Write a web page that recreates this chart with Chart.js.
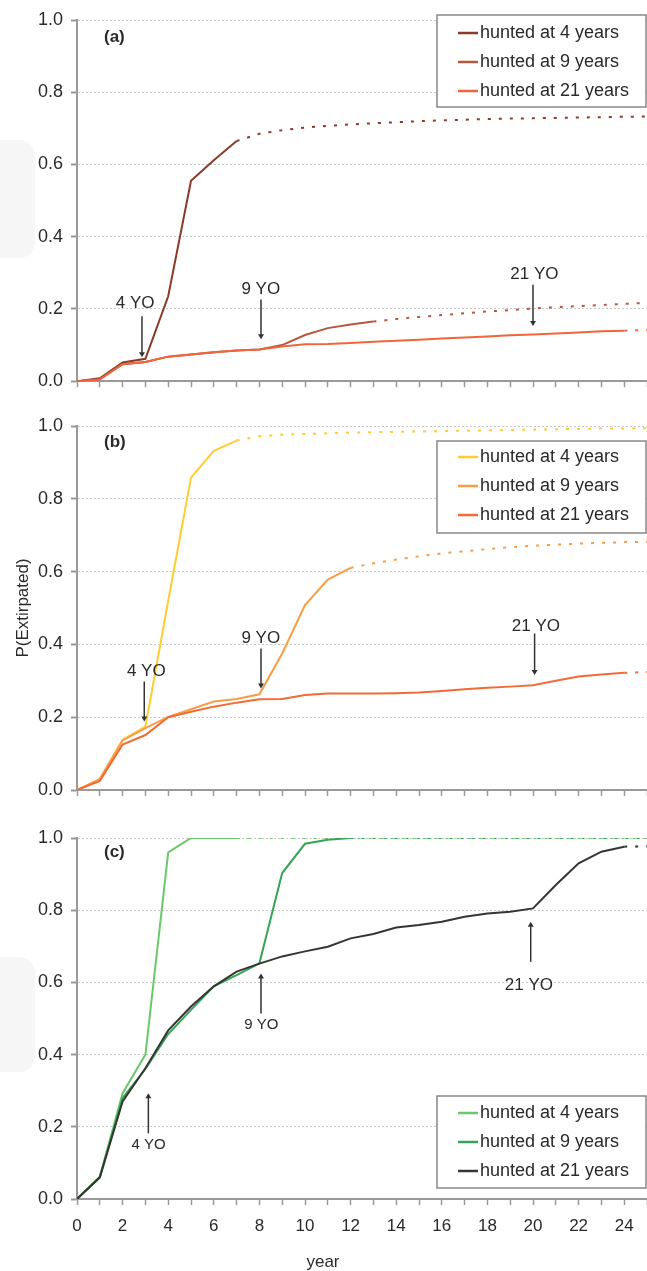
<!DOCTYPE html>
<html>
<head>
<meta charset="utf-8">
<title>P(Extirpated)</title>
<script src="https://cdn.jsdelivr.net/npm/chart.js@4.4.1/dist/chart.umd.min.js"></script>
<style>
  body { margin: 0; background: #fff; }
  #wrap { position: relative; width: 647px; height: 1271px; overflow: hidden; }
  .panel { position: absolute; left: 0; }
  .smudge { position: absolute; left: 0; width: 35px; background: #f6f6f6; border-radius: 0 16px 16px 0; }
</style>
</head>
<body>
<div id="wrap">
  <div class="smudge" style="top:140px;height:118px"></div>
  <div class="smudge" style="top:957px;height:115px"></div>
  <canvas id="chartA" class="panel" style="top:0" width="647" height="400"></canvas>
  <canvas id="chartB" class="panel" style="top:400px" width="647" height="410"></canvas>
  <canvas id="chartC" class="panel" style="top:810px" width="647" height="461"></canvas>
</div>
<script>
"use strict";

const FONT = '"Liberation Sans", Arial, sans-serif';
const TEXT = "#2a2a2a";

// years on the x axis
const years = [0, 1, 2, 3, 4, 5, 6, 7, 8, 9, 10, 11, 12, 13, 14, 15, 16, 17, 18, 19, 20, 21, 22, 23, 24, 25];
const xTickLabels = [0, 2, 4, 6, 8, 10, 12, 14, 16, 18, 20, 22, 24];
const seriesNames = ["hunted at 4 years", "hunted at 9 years", "hunted at 21 years"];

// (a)
const a4 = [0, 0.008, 0.052, 0.062, 0.235, 0.555, 0.612, 0.665, 0.685, 0.695, 0.702, 0.707, 0.711, 0.714, 0.717, 0.72, 0.722, 0.724, 0.726, 0.727, 0.728, 0.729, 0.73, 0.731, 0.732, 0.733];
const a9 = [0, 0.005, 0.047, 0.053, 0.068, 0.074, 0.08, 0.085, 0.088, 0.1, 0.128, 0.147, 0.157, 0.165, 0.172, 0.178, 0.183, 0.188, 0.193, 0.197, 0.201, 0.205, 0.208, 0.211, 0.214, 0.217];
const a21 = [0, 0.005, 0.047, 0.053, 0.068, 0.074, 0.08, 0.085, 0.088, 0.096, 0.102, 0.103, 0.106, 0.109, 0.112, 0.115, 0.118, 0.121, 0.124, 0.127, 0.129, 0.132, 0.135, 0.138, 0.14, 0.142];

// (b)
const b4 = [0, 0.03, 0.138, 0.174, 0.52, 0.858, 0.932, 0.96, 0.972, 0.976, 0.978, 0.98, 0.982, 0.983, 0.984, 0.985, 0.986, 0.987, 0.988, 0.989, 0.99, 0.991, 0.992, 0.993, 0.993, 0.994];
const b9 = [0, 0.03, 0.136, 0.17, 0.201, 0.222, 0.243, 0.25, 0.263, 0.375, 0.508, 0.578, 0.61, 0.623, 0.633, 0.642, 0.65, 0.656, 0.662, 0.667, 0.671, 0.674, 0.677, 0.679, 0.681, 0.682];
const b21 = [0, 0.025, 0.125, 0.151, 0.2, 0.215, 0.229, 0.24, 0.249, 0.25, 0.261, 0.265, 0.265, 0.265, 0.266, 0.268, 0.272, 0.277, 0.281, 0.284, 0.288, 0.3, 0.312, 0.317, 0.322, 0.324];

// (c)
const c4 = [0, 0.062, 0.293, 0.4, 0.96, 1, 1, 1, 1, 1, 1, 1, 1, 1, 1, 1, 1, 1, 1, 1, 1, 1, 1, 1, 1, 1];
const c9 = [0, 0.06, 0.28, 0.36, 0.457, 0.524, 0.589, 0.62, 0.653, 0.903, 0.984, 0.995, 1, 1, 1, 1, 1, 1, 1, 1, 1, 1, 1, 1, 1, 1];
const c21 = [0, 0.06, 0.27, 0.362, 0.467, 0.533, 0.589, 0.63, 0.652, 0.672, 0.686, 0.699, 0.722, 0.734, 0.752, 0.759, 0.768, 0.782, 0.791, 0.796, 0.805, 0.87, 0.93, 0.962, 0.976, 0.977];

// year where the solid line stops and the dotted part starts
const solidEndA = [7, 13, 24];
const solidEndB = [7, 12, 24];
const solidEndC = [7, 12, 24];

// arrows + labels, in data units
const arrowsA = [
  { label: "4 YO", tx: 2.55, ty: 0.217, x: 2.85, from: 0.18, to: 0.066 },
  { label: "9 YO", tx: 8.06, ty: 0.254, x: 8.07, from: 0.226, to: 0.116 },
  { label: "21 YO", tx: 20.06, ty: 0.295, x: 20.0, from: 0.267, to: 0.153 },
];
const arrowsB = [
  { label: "4 YO", tx: 3.04, ty: 0.325, x: 2.95, from: 0.298, to: 0.188 },
  { label: "9 YO", tx: 8.06, ty: 0.417, x: 8.07, from: 0.389, to: 0.279 },
  { label: "21 YO", tx: 20.13, ty: 0.451, x: 20.07, from: 0.43, to: 0.316 },
];
const arrowsC = [
  { label: "4 YO", tx: 3.14, ty: 0.15, x: 3.13, from: 0.182, to: 0.293, size: 15 },
  { label: "9 YO", tx: 8.08, ty: 0.482, x: 8.07, from: 0.514, to: 0.625, size: 15 },
  { label: "21 YO", tx: 19.82, ty: 0.593, x: 19.9, from: 0.657, to: 0.768 },
];

// extra drawing per canvas (letter, arrows, legend box)
const extras = {
  chartA: { letter: "(a)", letterY: 17, arrows: arrowsA, legend: { left: 437, top: 15, first: 18 } },
  chartB: { letter: "(b)", letterY: 16, arrows: arrowsB, legend: { left: 437, top: 41, first: 16 } },
  chartC: { letter: "(c)", letterY: 14, arrows: arrowsC, legend: { left: 437, top: 286, first: 17 }, xTitle: true },
};

const panelExtras = {
  id: "panelExtras",
  afterDatasetsDraw(chart) {
    const ex = extras[chart.canvas.id];
    const { ctx, chartArea } = chart;
    const xs = chart.scales.x;
    const ys = chart.scales.y;
    ctx.save();

    // panel letter
    ctx.font = "bold 17px " + FONT;
    ctx.fillStyle = TEXT;
    ctx.textAlign = "left";
    ctx.textBaseline = "middle";
    ctx.fillText(ex.letter, chartArea.left + 27, chartArea.top + ex.letterY);

    // arrows
    ex.arrows.forEach((a) => {
      const px = xs.getPixelForValue(a.x);
      const y0 = ys.getPixelForValue(a.from);
      const y1 = ys.getPixelForValue(a.to);
      const dir = y1 > y0 ? 1 : -1;
      ctx.strokeStyle = "#333";
      ctx.fillStyle = "#333";
      ctx.lineWidth = 1.5;
      ctx.beginPath();
      ctx.moveTo(px, y0);
      ctx.lineTo(px, y1 - dir * 4);
      ctx.stroke();
      ctx.beginPath();
      ctx.moveTo(px, y1);
      ctx.lineTo(px - 3, y1 - dir * 5);
      ctx.lineTo(px + 3, y1 - dir * 5);
      ctx.closePath();
      ctx.fill();
      ctx.fillStyle = TEXT;
      ctx.font = (a.size || 17) + "px " + FONT;
      ctx.textAlign = "center";
      ctx.fillText(a.label, xs.getPixelForValue(a.tx), ys.getPixelForValue(a.ty));
    });

    // legend box
    const lg = ex.legend;
    ctx.fillStyle = "#fff";
    ctx.fillRect(lg.left, lg.top, 209, 92);
    ctx.strokeStyle = "#888";
    ctx.lineWidth = 1.5;
    ctx.strokeRect(lg.left, lg.top, 209, 92);
    chart.data.datasets.forEach((ds, i) => {
      const ry = lg.top + lg.first + i * 29;
      ctx.strokeStyle = ds.borderColor;
      ctx.lineWidth = 2.5;
      ctx.beginPath();
      ctx.moveTo(lg.left + 21, ry);
      ctx.lineTo(lg.left + 41, ry);
      ctx.stroke();
      ctx.fillStyle = TEXT;
      ctx.font = "18px " + FONT;
      ctx.textAlign = "left";
      ctx.fillText(ds.label, lg.left + 43, ry);
    });

    // x axis title (only bottom panel)
    if (ex.xTitle) {
      ctx.fillStyle = TEXT;
      ctx.font = "17px " + FONT;
      ctx.textAlign = "center";
      ctx.fillText("year", 323, 452);
    }
    ctx.restore();
  },
};

function makeChart(id, values, colors, solidEnds, opt) {
  const datasets = values.map((vals, i) => ({
    label: seriesNames[i],
    data: years.map((yr, j) => ({ x: yr, y: vals[j] })),
    borderColor: colors[i],
    borderWidth: 2,
    pointRadius: 0,
    tension: 0,
    order: 3 - i,
    segment: {
      borderDash: (ctx) => (ctx.p0.parsed.x >= solidEnds[i] ? [3, 8] : undefined),
    },
  }));

  return new Chart(document.getElementById(id), {
    type: "line",
    data: { datasets: datasets },
    options: {
      responsive: false,
      animation: false,
      events: [],
      layout: { padding: { top: opt.top, left: 0, right: 0, bottom: 0 } },
      plugins: { legend: { display: false }, tooltip: { enabled: false } },
      scales: {
        x: {
          type: "linear",
          min: 0,
          max: 25,
          afterFit: (s) => {
            s.height = opt.xHeight;
            s.paddingLeft = 0;
            s.paddingRight = 0;
          },
          ticks: {
            stepSize: 1,
            autoSkip: false,
            includeBounds: false,
            maxRotation: 0,
            padding: 11,
            color: TEXT,
            font: { family: FONT, size: 17 },
            callback: (v) => (opt.xLabels && xTickLabels.includes(v) ? String(v) : ""),
          },
          grid: { drawOnChartArea: false, drawTicks: true, tickLength: 6, tickColor: "#999", tickWidth: 1.5 },
          border: { color: "#999", width: 2 },
        },
        y: {
          min: 0,
          max: 1,
          afterFit: (s) => { s.width = 77; },
          ticks: {
            stepSize: 0.2,
            padding: 8,
            color: TEXT,
            font: { family: FONT, size: 18 },
            callback: (v) => v.toFixed(1),
          },
          grid: { color: "#c8c8c8", lineWidth: 1, drawTicks: true, tickLength: 6, tickColor: "#999", tickWidth: 2 },
          border: { color: "#999", width: 2, dash: [2, 2] },
          title: {
            display: !!opt.yTitle,
            text: "P(Extirpated)",
            color: TEXT,
            font: { family: FONT, size: 17 },
            padding: { top: 13, bottom: 0 },
          },
        },
      },
    },
    plugins: [panelExtras],
  });
}

makeChart("chartA", [a4, a9, a21], ["#8B3A2A", "#B8573F", "#F0653C"], solidEndA, { top: 20, xHeight: 16 });
makeChart("chartB", [b4, b9, b21], ["#FFCC33", "#F99D45", "#F26A35"], solidEndB, { top: 26, xHeight: 20, yTitle: true });
makeChart("chartC", [c4, c9, c21], ["#6CC86A", "#36A356", "#333631"], solidEndC, { top: 28, xHeight: 72, xLabels: true });
</script>
</body>
</html>
